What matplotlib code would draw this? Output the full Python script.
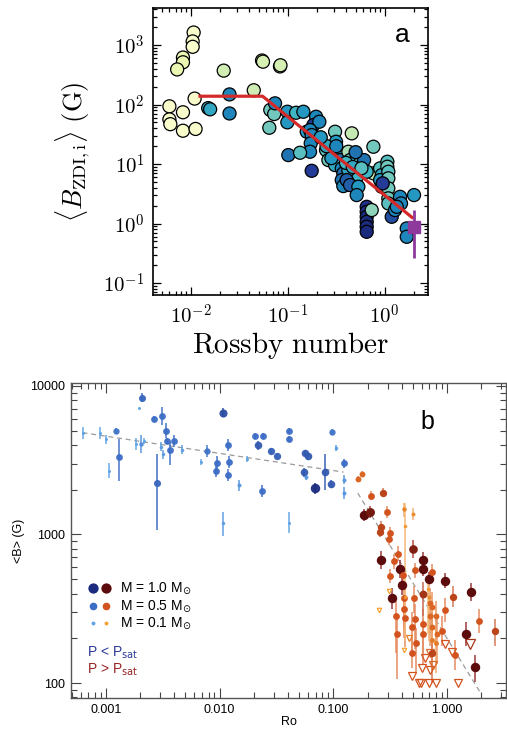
import numpy as np
import matplotlib
matplotlib.use('Agg')
import matplotlib.pyplot as plt
from matplotlib.ticker import LogLocator, FuncFormatter, NullFormatter, FixedLocator
from matplotlib.colors import LinearSegmentedColormap

plt.rcParams['font.family'] = ['Liberation Sans', 'DejaVu Sans']
plt.rcParams['mathtext.fontset'] = 'cm'

# ---------------- Panel a data (log10 Rossby, log10 B, colour value) ----------------
a_logro = [-1.97, -1.98, -1.98, -1.96, -2.22, -2.22, -2.21, -2.08, -2.08, -1.95,
           -2.08, -2.08, -2.14,
           -1.66, -1.265, -1.255, -1.08, -1.075, -1.35,
           -1.82, -1.80, -1.60, -1.60,
           -1.18, -1.14, -1.19, -1.131,
           -1.004, -1.004, -0.914, -0.839, -0.708, -0.736, -0.674, -0.804, -0.770, -0.753,
           -0.763, -0.770, -0.994, -0.873, -0.753,
           -0.512, -0.502, -0.605, -0.581, -0.495, -0.478, -0.461, -0.512, -0.443, -0.427,
           -0.443, -0.427, -0.340, -0.375, -0.358, -0.340, -0.289, -0.255, -0.306, -0.272,
           -0.375, -0.392, -0.358, -0.272, -0.289, -0.213, -0.117, -0.117, -0.186,
           -0.048, -0.031, -0.048, -0.031,
           0.027, 0.027, 0.037, 0.037, 0.037, 0.037, 0.037, -0.021,
           0.158, 0.168, 0.072, 0.106, 0.227, 0.227, 0.302,
           -0.186, -0.186, -0.186, -0.186, -0.186, -0.186, -0.134, 0.124,
           -0.60, -0.55, -0.40, -0.33, -0.24, -0.50, -0.66, -0.30]
a_logb = [3.21, 3.06, 2.97, 2.10, 1.97, 1.75, 1.67, 1.87, 1.56, 1.59,
          2.79, 2.71, 2.59,
          2.57, 2.74, 2.72, 2.64, 2.66, 2.24,
          1.94, 1.92, 2.17, 1.85,
          1.91, 1.84, 1.61, 2.02,
          1.879, 1.701, 1.862, 1.879, 1.795, 1.655, 1.711, 1.543, 1.571, 1.487,
          1.348, 1.207, 1.151, 1.190, 0.887,
          1.543, 1.375, 1.235, 1.067, 1.235, 1.151, 1.067, 0.983, 0.928, 0.844,
          0.731, 0.630, 1.516, 1.207, 1.067, 0.983, 1.096, 1.012, 0.899, 0.815,
          0.899, 0.731, 0.647, 0.619, 0.479, 1.067, 1.291, 0.844, 0.871,
          0.928, 0.815, 0.731, 0.619,
          1.039, 0.955, 0.871, 0.760, 0.592, 0.424, 0.339, 0.676,
          0.450, 0.339, 0.114, 0.227, -0.081, -0.222, 0.479,
          0.282, 0.198, 0.114, 0.030, -0.054, -0.138, 0.227, 0.282,
          1.30, 1.10, 1.02, 0.95, 0.93, 1.30, 1.45, 1.20]
a_col = [0.04, 0.04, 0.04, 0.05, 0.04, 0.04, 0.04, 0.05, 0.04, 0.05,
         0.13, 0.13, 0.14,
         0.22, 0.20, 0.20, 0.20, 0.20, 0.23,
         0.55, 0.55, 0.65, 0.65,
         0.40, 0.40, 0.40, 0.65,
         0.60, 0.60, 0.50, 0.60, 0.65, 0.85, 0.65, 0.60, 0.65, 0.65,
         0.65, 0.65, 0.70, 0.45, 0.85,
         0.40, 0.60, 0.45, 0.40, 0.65, 0.60, 0.70, 0.55, 0.65, 0.70,
         0.70, 0.65, 0.25, 0.30, 0.45, 0.50, 0.55, 0.45, 0.60, 0.50,
         0.55, 0.75, 0.75, 0.60, 0.65, 0.70, 0.40, 0.25, 0.50,
         0.45, 0.55, 0.60, 0.50,
         0.45, 0.40, 0.45, 0.40, 0.40, 0.40, 0.45, 0.85,
         0.65, 0.65, 0.80, 0.65, 0.65, 0.65, 0.60,
         0.90, 0.90, 0.92, 0.92, 0.92, 0.92, 0.35, 0.65,
         0.55, 0.60, 0.50, 0.55, 0.45, 0.65, 0.60, 0.70]

fit_ro = [0.012, 0.055, 1.97]
fit_b = [138.0, 138.0, 1.22]

sun_ro = [2.0]
sun_b = [0.87]
sun_lo = [0.61]
sun_hi = [0.82]

# ---------------- Panel b data ----------------
blue_logro = [-3.205, -3.053, -3.00, -2.97, -2.91, -2.89, -2.74, -2.69, -2.68, -2.71,
              -2.67, -2.58, -2.55, -2.51, -2.52, -2.50, -2.47, -2.46, -2.44, -2.40,
              -2.33, -2.16, -2.11, -2.02, -2.03, -1.97, -1.97, -1.93, -1.92, -1.93,
              -1.83, -1.76, -1.69, -1.66, -1.62, -1.63, -1.55, -1.50, -1.39, -1.39,
              -1.39, -1.25, -1.22, -1.26, -1.24, -1.16, -1.07, -1.02, -1.01, -0.98,
              -0.91, -0.91, -0.91]
blue_logb = [3.686, 3.686, 3.64, 3.43, 3.70, 3.52, 3.61, 3.61, 3.92, 3.85,
             3.63, 3.78, 3.35, 3.80, 3.59, 3.54, 3.70, 3.63, 3.57, 3.63,
             3.57, 3.49, 3.56, 3.48, 3.43, 3.08, 3.82, 3.60, 3.49, 3.40,
             3.33, 3.51, 3.66, 3.60, 3.66, 3.29, 3.56, 3.53, 3.70, 3.64,
             3.08, 3.55, 3.53, 3.42, 3.39, 3.31, 3.42, 3.34, 3.69, 3.58,
             3.48, 3.37, 3.28]
blue_mass = [0.1, 0.1, 0.1, 0.1, 0.45, 0.5, 0.1, 0.25, 0.55, 0.1,
             0.1, 0.5, 0.55, 0.5, 0.15, 0.15, 0.5, 0.5, 0.5, 0.5,
             0.15, 0.1, 0.45, 0.5, 0.5, 0.15, 0.75, 0.5, 0.5, 0.5,
             0.2, 0.1, 0.5, 0.65, 0.5, 0.5, 0.6, 0.6, 0.5, 0.5,
             0.1, 0.65, 0.65, 0.65, 0.2, 1.0, 0.65, 0.65, 0.45, 0.15,
             0.5, 0.2, 0.2]
blue_elo = [0.04, 0.04, 0.03, 0.05, 0.02, 0.16, 0.04, 0.06, 0.03, 0.0,
            0.02, 0.02, 0.32, 0.06, 0.03, 0.03, 0.05, 0.02, 0.10, 0.04,
            0.03, 0.02, 0.04, 0.05, 0.04, 0.09, 0.03, 0.04, 0.04, 0.04,
            0.04, 0.02, 0.02, 0.03, 0.02, 0.04, 0.02, 0.02, 0.02, 0.02,
            0.07, 0.02, 0.02, 0.03, 0.02, 0.04, 0.12, 0.03, 0.02, 0.02,
            0.03, 0.03, 0.04]
blue_ehi = [0.04, 0.04, 0.03, 0.05, 0.02, 0.12, 0.04, 0.06, 0.03, 0.0,
            0.02, 0.02, 0.19, 0.06, 0.03, 0.03, 0.05, 0.02, 0.05, 0.04,
            0.03, 0.02, 0.04, 0.05, 0.04, 0.07, 0.03, 0.04, 0.04, 0.04,
            0.04, 0.02, 0.02, 0.03, 0.02, 0.04, 0.02, 0.02, 0.02, 0.02,
            0.07, 0.02, 0.02, 0.03, 0.02, 0.04, 0.12, 0.03, 0.02, 0.02,
            0.03, 0.03, 0.04]

red_logro = [-0.784, -0.75, -0.67, -0.56, -0.73, -0.68, -0.53, -0.38, -0.30, -0.37,
             -0.58, -0.59, -0.50, -0.51, -0.58, -0.43, -0.47, -0.30, -0.41, -0.50,
             -0.39, -0.40, -0.48, -0.21, -0.21, -0.28, -0.16, -0.13, -0.02, 0.05,
             0.21, 0.28, 0.17, 0.42, 0.25, 0.07, -0.045, -0.02, -0.44, -0.45,
             -0.38, -0.38, -0.29, -0.37, -0.31, -0.27, -0.31, -0.28, -0.21, -0.21,
             -0.21, -0.15, -0.15, -0.13, -0.10, -0.13, -0.09, -0.13, -0.10, -0.13,
             -0.17, -0.37, -0.16]
red_logb = [3.376, 3.41, 3.26, 3.28, 3.13, 3.15, 3.15, 3.17, 3.14, 3.06,
            3.05, 3.02, 3.01, 2.97, 2.83, 2.87, 2.82, 2.90, 2.77, 2.72,
            2.73, 2.66, 2.57, 2.83, 2.77, 2.76, 2.70, 2.75, 2.69, 2.58,
            2.61, 2.42, 2.33, 2.35, 2.11, 2.19, 2.35, 2.49, 2.33, 2.45,
            2.50, 2.57, 2.57, 2.44, 2.38, 2.27, 2.20, 2.43, 2.40, 2.33,
            2.60, 2.54, 2.45, 2.51, 2.45, 2.38, 2.33, 2.29, 2.27, 2.20,
            2.63, 2.58, 2.58]
red_mass = [0.4, 0.4, 0.5, 0.6, 1.0, 0.9, 0.5, 0.25, 0.2, 0.15,
            0.6, 0.6, 0.5, 0.5, 1.0, 0.5, 0.5, 0.85, 1.0, 0.5,
            0.5, 1.0, 1.0, 1.0, 1.0, 0.5, 1.0, 0.5, 1.0, 0.6,
            1.0, 0.5, 1.0, 0.6, 1.0, 0.5, 0.5, 0.5, 0.5, 0.5,
            0.5, 0.5, 0.5, 0.5, 0.5, 0.5, 0.5, 0.5, 0.5, 0.5,
            0.7, 0.4, 0.4, 0.4, 0.4, 0.4, 0.4, 0.3, 0.3, 0.6,
            0.15, 0.15, 0.2]
red_elo = [0.02, 0.02, 0.03, 0.03, 0.04, 0.04, 0.04, 0.05, 0.04, 0.5,
           0.05, 0.04, 0.04, 0.04, 0.06, 0.05, 0.05, 0.06, 0.06, 0.05,
           0.06, 0.07, 0.07, 0.05, 0.05, 0.05, 0.05, 0.05, 0.05, 0.07,
           0.06, 0.08, 0.08, 0.10, 0.10, 0.10, 0.10, 0.08, 0.30, 0.25,
           0.20, 0.20, 0.10, 0.20, 0.20, 0.20, 0.10, 0.20, 0.20, 0.20,
           0.15, 0.20, 0.20, 0.20, 0.20, 0.20, 0.20, 0.20, 0.20, 0.20,
           0.30, 0.30, 0.30]
red_ehi = [0.02, 0.02, 0.03, 0.03, 0.04, 0.04, 0.04, 0.04, 0.04, 0.15,
           0.04, 0.04, 0.04, 0.04, 0.06, 0.05, 0.05, 0.06, 0.06, 0.05,
           0.06, 0.07, 0.07, 0.05, 0.05, 0.05, 0.05, 0.05, 0.05, 0.07,
           0.06, 0.08, 0.08, 0.08, 0.08, 0.10, 0.10, 0.08, 0.10, 0.10,
           0.08, 0.08, 0.08, 0.10, 0.10, 0.10, 0.10, 0.10, 0.10, 0.10,
           0.08, 0.10, 0.10, 0.10, 0.10, 0.10, 0.10, 0.10, 0.10, 0.10,
           0.10, 0.10, 0.10]

tri_logro = [-0.60, -0.51, -0.38, -0.33, -0.31, -0.25, -0.23, -0.22, -0.19, -0.16,
             -0.10, -0.15, -0.12, -0.15, -0.02, 0.04, 0.10, 0.20]
tri_logb = [2.49, 2.62, 2.22, 2.30, 2.05, 2.00, 2.00, 2.10, 2.17, 2.00,
            2.00, 2.09, 2.12, 2.20, 2.26, 2.21, 2.00, 2.26]
tri_mass = [0.1, 0.1, 0.1, 0.3, 0.5, 0.5, 0.5, 0.5, 0.5, 0.5,
            0.5, 0.5, 0.4, 0.4, 0.5, 0.5, 0.5, 0.7]

dash1_ro = [6.2e-4, 0.123]
dash1_b = [4850.0, 2630.0]
dash2_ro = [0.164, 1.95]
dash2_b = [1900.0, 87.0]

legend_labels = ['M = 1.0 M$_{\\odot}$', 'M = 0.5 M$_{\\odot}$', 'M = 0.1 M$_{\\odot}$']
legend_mass = [1.0, 0.5, 0.1]

# ---------------- Figure ----------------
W, H = 507, 731
fig = plt.figure(figsize=(W / 100, H / 100), dpi=100)


def frac(l, t, r, b):
    return [l / W, 1 - b / H, (r - l) / W, (b - t) / H]


# ======== Panel a ========
ax1 = fig.add_axes(frac(153, 8, 428, 295))
ax1.set_xscale('log')
ax1.set_yscale('log')
ax1.set_xlim(10 ** -2.389, 10 ** 0.446)
ax1.set_ylim(10 ** -1.2, 10 ** 3.622)

cmap_a = plt.get_cmap('YlGnBu')
ax1.scatter(10 ** np.array(a_logro), 10 ** np.array(a_logb), c=a_col, cmap=cmap_a,
            vmin=0, vmax=1, s=88, edgecolors='black', linewidths=0.9, zorder=3)
ax1.plot(fit_ro, fit_b, color='#d42a2a', lw=2.3, zorder=4, solid_capstyle='butt')
ax1.errorbar(sun_ro, sun_b, yerr=[sun_lo, sun_hi], fmt='s', color='#8e3a9c',
             ms=9, elinewidth=2.0, capsize=0, zorder=5)

fmt_a = FuncFormatter(lambda v, p: r'$10^{%d}$' % int(round(np.log10(v))))
ax1.xaxis.set_major_locator(LogLocator(base=10, numticks=10))
ax1.yaxis.set_major_locator(LogLocator(base=10, numticks=10))
ax1.xaxis.set_minor_locator(LogLocator(base=10, subs=np.arange(2, 10), numticks=20))
ax1.yaxis.set_minor_locator(LogLocator(base=10, subs=np.arange(2, 10), numticks=20))
ax1.xaxis.set_major_formatter(fmt_a)
ax1.yaxis.set_major_formatter(fmt_a)
ax1.xaxis.set_minor_formatter(NullFormatter())
ax1.yaxis.set_minor_formatter(NullFormatter())
ax1.tick_params(which='both', direction='in', top=True, right=True, colors='black',
                labelsize=15, width=0.9)
ax1.tick_params(which='major', length=6, pad=6)
ax1.tick_params(which='minor', length=3)
for sp in ax1.spines.values():
    sp.set_linewidth(1.2)
ax1.set_xlabel(r'$\mathrm{Rossby\ number}$', fontsize=21, labelpad=2)
ax1.set_ylabel(r'$\langle B_{\mathrm{ZDI,i}}\rangle\ \mathrm{(G)}$', fontsize=19, labelpad=8)
ax1.text(0.905, 0.905, 'a', transform=ax1.transAxes, fontsize=19, ha='center', va='center')

# ======== Panel b ========
ax2 = fig.add_axes(frac(71, 383, 506, 698))
ax2.set_xscale('log')
ax2.set_yscale('log')
ax2.set_xlim(10 ** -3.308, 10 ** 0.519)
ax2.set_ylim(10 ** 1.899, 10 ** 4.020)

cm_blue = LinearSegmentedColormap.from_list('bl', [(0.0, '#5fa3e6'), (0.45, '#3b6cc4'), (1.0, '#1b2c80')])
cm_red = LinearSegmentedColormap.from_list('rd', [(0.0, '#f5a232'), (0.45, '#d2521f'), (1.0, '#5c0c0c')])
cm_err_red = LinearSegmentedColormap.from_list('rde', [(0.0, '#f8c07a'), (0.45, '#e58a60'), (1.0, '#9a3a3a')])


def msize(m):
    return float(np.interp(m, [0.1, 0.5, 1.0], [2.2, 4.9, 6.8]))


ax2.plot(dash1_ro, dash1_b, ls=(0, (4, 3)), color='#9a9a9a', lw=0.9, zorder=1)
ax2.plot(dash2_ro, dash2_b, ls=(0, (4, 3)), color='#9a9a9a', lw=0.9, zorder=1)

for lr, lb, m, lo, hi in zip(blue_logro, blue_logb, blue_mass, blue_elo, blue_ehi):
    x, y = 10 ** lr, 10 ** lb
    cnorm = (m - 0.1) / 0.9
    ax2.errorbar([x], [y], yerr=[[y - 10 ** (lb - lo)], [10 ** (lb + hi) - y]], fmt='o',
                 ms=msize(m), color=cm_blue(cnorm), mec='none', ecolor=cm_blue(cnorm),
                 elinewidth=1.1, capsize=0, zorder=3, alpha=0.95)

for lr, lb, m, lo, hi in zip(red_logro, red_logb, red_mass, red_elo, red_ehi):
    x, y = 10 ** lr, 10 ** lb
    cnorm = (m - 0.1) / 0.9
    ax2.errorbar([x], [y], yerr=[[y - 10 ** (lb - lo)], [10 ** (lb + hi) - y]], fmt='o',
                 ms=msize(m), color=cm_red(cnorm), mec='none', ecolor=cm_err_red(cnorm),
                 elinewidth=1.1, capsize=0, zorder=3)

for lr, lb, m in zip(tri_logro, tri_logb, tri_mass):
    cnorm = (m - 0.1) / 0.9
    ax2.plot([10 ** lr], [10 ** lb], marker='v', ms=msize(m) + 1.0, mfc='none',
             mec=cm_red(cnorm), mew=0.9, ls='none', zorder=3)

ax2.xaxis.set_major_locator(FixedLocator([0.001, 0.01, 0.1, 1.0]))
ax2.yaxis.set_major_locator(FixedLocator([100, 1000, 10000]))
ax2.xaxis.set_minor_locator(LogLocator(base=10, subs=np.arange(2, 10), numticks=20))
ax2.yaxis.set_minor_locator(LogLocator(base=10, subs=np.arange(2, 10), numticks=20))
ax2.xaxis.set_major_formatter(FuncFormatter(lambda v, p: '%.3f' % v))
ax2.yaxis.set_major_formatter(FuncFormatter(lambda v, p: '%d' % int(round(v))))
ax2.xaxis.set_minor_formatter(NullFormatter())
ax2.yaxis.set_minor_formatter(NullFormatter())
ax2.tick_params(which='both', direction='in', top=True, right=True, color='#444444',
                labelsize=9, width=0.8)
ax2.tick_params(which='major', length=7, pad=4)
ax2.tick_params(which='minor', length=4)
for sp in ax2.spines.values():
    sp.set_linewidth(1.0)
    sp.set_color('#555555')
ax2.set_xlabel('Ro', fontsize=9, labelpad=0)
ax2.set_ylabel('<B> (G)', fontsize=9, labelpad=4)
ax2.text(0.82, 0.875, 'b', transform=ax2.transAxes, fontsize=18, ha='center', va='center')

# legend (manual)
rows_y = [0.349, 0.292, 0.238]
for yy, m, lab in zip(rows_y, legend_mass, legend_labels):
    cnorm = (m - 0.1) / 0.9
    ax2.plot([0.0506], [yy], 'o', ms=msize(m) + 0.6, color=cm_blue(cnorm), mec='none',
             transform=ax2.transAxes, clip_on=False)
    ax2.plot([0.0805], [yy], 'o', ms=msize(m) + 0.6, color=cm_red(cnorm), mec='none',
             transform=ax2.transAxes, clip_on=False)
    ax2.text(0.113, yy, lab, transform=ax2.transAxes, fontsize=10, va='center',
             ha='left', math_fontfamily='dejavusans')
ax2.text(0.036, 0.143, 'P < P$_{\\mathrm{sat}}$', transform=ax2.transAxes, fontsize=10,
         color='#2b3a96', va='center', math_fontfamily='dejavusans')
ax2.text(0.036, 0.089, 'P > P$_{\\mathrm{sat}}$', transform=ax2.transAxes, fontsize=10,
         color='#962424', va='center', math_fontfamily='dejavusans')

fig.savefig('out.png', dpi=100)
